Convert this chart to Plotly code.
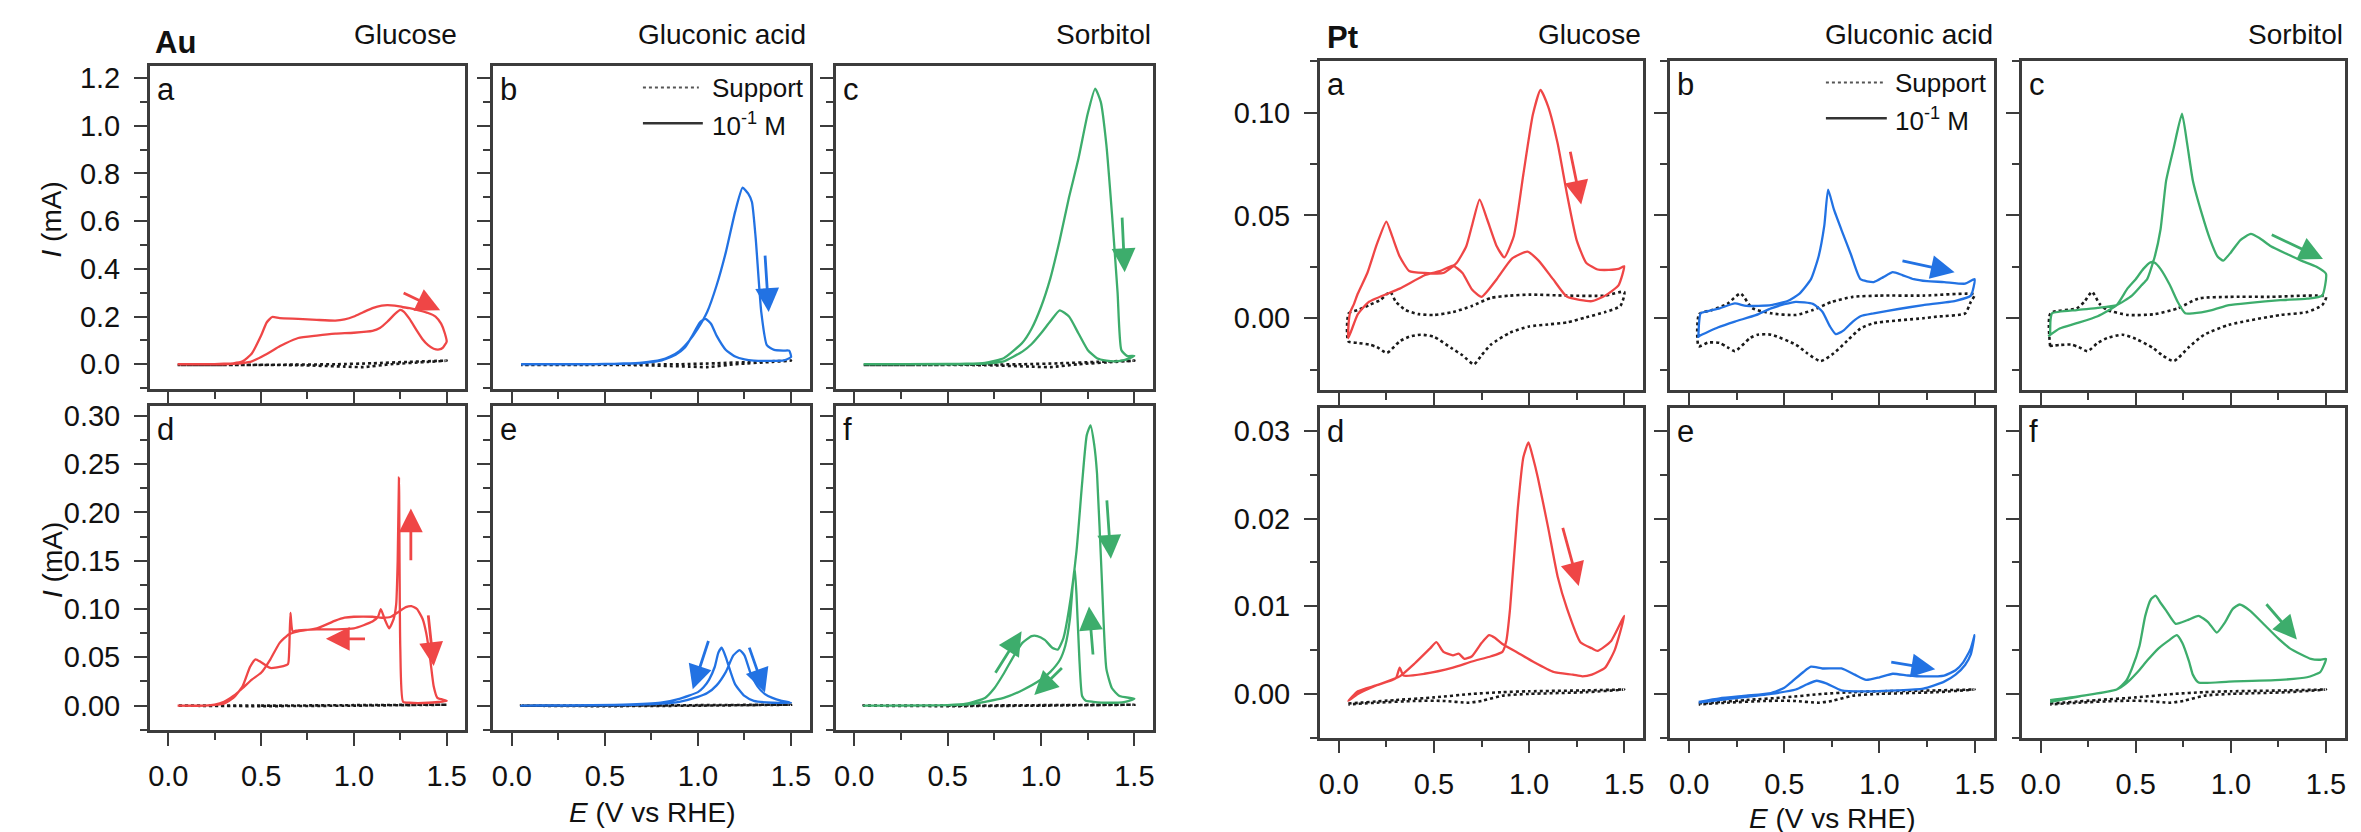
import plotly.graph_objects as go

W, H = 2361, 832
RED, BLUE, GREEN = "#EF4646", "#2272E3", "#3DAD6C"
FONT = "Liberation Sans, Arial, Helvetica, sans-serif"

# ---------------- Au : top row (10^-1 M) ----------------
au_glc_E = [0.05, 0.2, 0.3, 0.35, 0.4, 0.45, 0.5, 0.53, 0.56, 0.6, 0.7, 0.8, 0.9, 0.95, 1.0, 1.05, 1.1, 1.15, 1.18, 1.22,
            1.26, 1.3, 1.35, 1.4, 1.44, 1.47, 1.49, 1.5,
            1.48, 1.46, 1.43, 1.4, 1.37, 1.34, 1.3, 1.27, 1.25, 1.22, 1.18, 1.14, 1.1, 1.0, 0.9, 0.8, 0.7, 0.63, 0.6,
            0.52, 0.45, 0.4, 0.35, 0.3, 0.2, 0.05]
au_glc_I = [0.0, 0.0, 0.002, 0.004, 0.012, 0.045, 0.12, 0.175, 0.198, 0.193, 0.19, 0.186, 0.183, 0.188, 0.2, 0.218, 0.235,
            0.246, 0.248, 0.246, 0.24, 0.235, 0.226, 0.215, 0.2, 0.17, 0.13, 0.095,
            0.07, 0.062, 0.065, 0.08, 0.105, 0.14, 0.19, 0.22, 0.228, 0.21, 0.178, 0.152, 0.14, 0.132, 0.128, 0.12,
            0.11, 0.087, 0.075, 0.039, 0.012, 0.005, 0.002, 0.0, 0.0, 0.0]
au_gla_E = [0.05, 0.4, 0.5, 0.6, 0.7, 0.8, 0.85, 0.9, 0.95, 1.0, 1.05, 1.1, 1.15, 1.2, 1.24, 1.27, 1.29, 1.31, 1.34, 1.37,
            1.41, 1.46, 1.49, 1.5,
            1.46, 1.4, 1.3, 1.25, 1.2, 1.15, 1.1, 1.07, 1.04, 1.01, 0.97, 0.93, 0.88, 0.8, 0.7, 0.6, 0.4, 0.05]
au_gla_I = [0.0, 0.0, 0.001, 0.003, 0.007, 0.018, 0.032, 0.055, 0.095, 0.15, 0.22, 0.33, 0.47, 0.64, 0.74, 0.715, 0.68,
            0.53, 0.22, 0.08, 0.06, 0.057, 0.057, 0.03,
            0.016, 0.014, 0.015, 0.02, 0.032, 0.06, 0.12, 0.17, 0.19, 0.175, 0.12, 0.07, 0.04, 0.015, 0.005, 0.002,
            0.0, 0.0]
au_sor_E = [0.05, 0.5, 0.6, 0.7, 0.8, 0.9, 0.95, 1.0, 1.05, 1.1, 1.15, 1.2, 1.25, 1.29, 1.32, 1.35, 1.38, 1.41, 1.43,
            1.46, 1.5,
            1.45, 1.4, 1.35, 1.3, 1.25, 1.2, 1.15, 1.1, 1.05, 1.0, 0.95, 0.9, 0.8, 0.7, 0.5, 0.05]
au_sor_I = [0.0, 0.001, 0.002, 0.006, 0.025, 0.09, 0.15, 0.24, 0.36, 0.52, 0.7, 0.86, 1.05, 1.156, 1.1, 0.92, 0.63, 0.3,
            0.06, 0.035, 0.035,
            0.018, 0.012, 0.015, 0.025, 0.06, 0.13, 0.2, 0.226, 0.18, 0.13, 0.085, 0.053, 0.012, 0.003, 0.0, 0.0]
au_top_sup_E = [0.05, 0.3, 0.6, 0.9, 1.1, 1.3, 1.5, 1.4, 1.2, 1.05, 0.95, 0.7, 0.4, 0.05]
au_top_sup_I = [-0.003, -0.003, -0.002, 0.0, 0.004, 0.01, 0.015, 0.01, 0.0, -0.012, -0.01, -0.004, -0.003, -0.003]

# ---------------- Au : bottom row (10^-3 M) ----------------
au_glc2_E = [0.05, 0.2, 0.25, 0.3, 0.35, 0.4, 0.45, 0.5, 0.55, 0.6, 0.65, 0.7, 0.8, 0.9, 0.95, 1.0, 1.1, 1.15, 1.2, 1.24,
             1.28, 1.31, 1.34, 1.37, 1.39, 1.41, 1.43, 1.45, 1.5,
             1.4, 1.3, 1.265, 1.25, 1.243, 1.236, 1.228, 1.215, 1.19, 1.165, 1.145, 1.13, 1.1, 1.0, 0.9, 0.8, 0.7,
             0.67, 0.658, 0.652, 0.645, 0.62, 0.55, 0.5, 0.47, 0.44, 0.4, 0.35, 0.3, 0.2, 0.05]
au_glc2_I = [0.0, 0.0, 0.001, 0.004, 0.01, 0.018, 0.027, 0.034, 0.048, 0.065, 0.074, 0.077, 0.08, 0.088, 0.091, 0.092,
             0.092, 0.091, 0.092, 0.097, 0.102, 0.103, 0.1, 0.09, 0.075, 0.05, 0.02, 0.008, 0.005,
             0.003, 0.003, 0.004, 0.06, 0.236, 0.15, 0.105, 0.09, 0.08, 0.09, 0.1, 0.092, 0.087, 0.08, 0.079, 0.079,
             0.078, 0.077, 0.096, 0.06, 0.043, 0.041, 0.039, 0.045, 0.048, 0.04, 0.02, 0.008, 0.002, 0.0, 0.0]
au_gla2_E = [0.05, 0.6, 0.8, 0.9, 1.0, 1.05, 1.1, 1.15, 1.19, 1.224, 1.25, 1.28, 1.32, 1.36, 1.4, 1.45, 1.5,
             1.4, 1.3, 1.25, 1.2, 1.17, 1.15, 1.128, 1.11, 1.09, 1.06, 1.03, 1.0, 0.9, 0.8, 0.6, 0.05]
au_gla2_I = [0.0, 0.0005, 0.002, 0.004, 0.009, 0.013, 0.021, 0.035, 0.052, 0.0575, 0.052, 0.035, 0.02, 0.012, 0.008,
             0.005, 0.003,
             0.003, 0.005, 0.01, 0.022, 0.038, 0.05, 0.06, 0.055, 0.04, 0.027, 0.019, 0.014, 0.007, 0.003, 0.001, 0.0]
au_sor2_E = [0.05, 0.5, 0.6, 0.7, 0.75, 0.8, 0.85, 0.9, 0.95, 0.98, 1.02, 1.06, 1.09, 1.12, 1.15, 1.19, 1.22, 1.245,
             1.265, 1.285, 1.3, 1.325, 1.35, 1.38, 1.42, 1.5,
             1.45, 1.35, 1.28, 1.24, 1.22, 1.205, 1.19, 1.18, 1.17, 1.155, 1.13, 1.1, 1.05, 1.0, 0.9, 0.8, 0.7, 0.6,
             0.05]
au_sor2_I = [0.0, 0.0005, 0.002, 0.008, 0.018, 0.033, 0.05, 0.065, 0.072, 0.072, 0.068, 0.06, 0.058, 0.07, 0.1, 0.16,
             0.23, 0.28, 0.29, 0.27, 0.24, 0.134, 0.038, 0.018, 0.01, 0.007,
             0.004, 0.003, 0.004, 0.005, 0.01, 0.05, 0.115, 0.144, 0.125, 0.09, 0.062, 0.047, 0.035, 0.027, 0.016,
             0.008, 0.004, 0.001, 0.0]
au_bot_sup_E = [0.05, 0.5, 1.0, 1.5, 1.0, 0.5, 0.05]
au_bot_sup_I = [0.0, 0.0, 0.0005, 0.001, 0.0, -0.0005, 0.0]

# ---------------- Pt : top row (10^-1 M) ----------------
pt_glc_E = [0.05, 0.052, 0.06, 0.08, 0.1, 0.15, 0.2, 0.25, 0.28, 0.32, 0.37, 0.45, 0.55, 0.62, 0.67, 0.7, 0.74, 0.78,
            0.83, 0.87, 0.92, 0.97, 1.02, 1.06, 1.1, 1.15, 1.2, 1.25, 1.3, 1.36, 1.42, 1.47, 1.5,
            1.47, 1.4, 1.33, 1.2, 1.126, 1.05, 0.992, 0.91, 0.83, 0.75, 0.7, 0.65, 0.6, 0.535, 0.454, 0.32, 0.159,
            0.1, 0.05]
pt_glc_I = [-0.0096, -0.002, 0.003, 0.007, 0.012, 0.022, 0.036, 0.047, 0.04, 0.03, 0.023, 0.022, 0.022, 0.027, 0.035,
            0.045, 0.0577, 0.048, 0.035, 0.0296, 0.04, 0.07, 0.099, 0.111, 0.103, 0.085, 0.06, 0.038, 0.027, 0.0237,
            0.0235, 0.024, 0.0253,
            0.016, 0.011, 0.0083, 0.0104, 0.019, 0.028, 0.0324, 0.029, 0.019, 0.0104, 0.014, 0.022, 0.0256, 0.023,
            0.021, 0.0144, 0.008, 0.002, -0.0096]
pt_glc_sup_E = [0.05, 0.052, 0.1, 0.16, 0.22, 0.27, 0.3, 0.35, 0.42, 0.5, 0.6, 0.7, 0.8, 0.9, 1.0, 1.2, 1.4, 1.5,
                1.48, 1.4, 1.3, 1.2, 1.1, 1.0, 0.9, 0.8, 0.75, 0.71, 0.65, 0.59, 0.5, 0.43, 0.37, 0.32, 0.253, 0.2,
                0.16, 0.1, 0.05]
pt_glc_sup_I = [-0.0112, 0.0024, 0.004, 0.0064, 0.009, 0.0128, 0.008, 0.004, 0.002, 0.0016, 0.003, 0.006, 0.0099,
                0.011, 0.0115, 0.011, 0.011, 0.0128,
                0.006, 0.003, 0.0005, -0.002, -0.003, -0.004, -0.007, -0.0128, -0.018, -0.0224, -0.018, -0.0144,
                -0.009, -0.008, -0.009, -0.0112, -0.0168, -0.014, -0.0128, -0.012, -0.0112]
pt_gla_E = [0.048, 0.052, 0.06, 0.1, 0.16, 0.24, 0.3, 0.43, 0.52, 0.58, 0.64, 0.68, 0.71, 0.73, 0.76, 0.8, 0.85, 0.9,
            0.97, 1.02, 1.07, 1.12, 1.18, 1.25, 1.34, 1.45, 1.5,
            1.48, 1.4, 1.23, 1.1, 0.97, 0.9, 0.86, 0.81, 0.77, 0.74, 0.7, 0.65, 0.56, 0.5, 0.43, 0.35, 0.24, 0.15,
            0.048]
pt_gla_I = [-0.0096, -0.002, 0.0024, 0.0035, 0.0048, 0.0072, 0.006, 0.0064, 0.0085, 0.012, 0.019, 0.03, 0.045, 0.0625,
            0.053, 0.043, 0.031, 0.019, 0.0176, 0.02, 0.0224, 0.021, 0.019, 0.018, 0.0176, 0.0168, 0.019,
            0.011, 0.0085, 0.0064, 0.0045, 0.0024, 0.001, -0.0016, -0.006, -0.0077, -0.004, 0.0032, 0.007, 0.008,
            0.0068, 0.0048, 0.0015, -0.0016, -0.0045, -0.0088]
pt_gla_sup_E = [0.05, 0.052, 0.12, 0.2, 0.27, 0.33, 0.43, 0.56, 0.65, 0.75, 0.86, 1.0, 1.23, 1.5,
                1.48, 1.45, 1.3, 1.23, 0.97, 0.9, 0.83, 0.76, 0.69, 0.62, 0.56, 0.43, 0.36, 0.32, 0.24, 0.2, 0.16,
                0.1, 0.05]
pt_gla_sup_I = [-0.0136, 0.002, 0.004, 0.007, 0.012, 0.005, 0.0024, 0.0016, 0.004, 0.008, 0.0104, 0.011, 0.011,
                0.0115,
                0.008, 0.0024, 0.0008, 0.0, -0.0024, -0.005, -0.011, -0.017, -0.0208, -0.017, -0.0128, -0.008,
                -0.008, -0.0096, -0.016, -0.014, -0.012, -0.0118, -0.0136]
pt_sor_E = [0.05, 0.052, 0.06, 0.19, 0.3, 0.4, 0.48, 0.53, 0.56, 0.6, 0.63, 0.66, 0.7, 0.743, 0.77, 0.8, 0.85, 0.89,
            0.93, 0.96, 1.0, 1.05, 1.105, 1.15, 1.21, 1.3, 1.37, 1.45, 1.5,
            1.48, 1.4, 1.26, 1.1, 0.99, 0.9, 0.8, 0.76, 0.72, 0.68, 0.63, 0.6, 0.577, 0.54, 0.5, 0.456, 0.4, 0.3,
            0.19, 0.1, 0.04]
pt_sor_I = [-0.008, -0.001, 0.0024, 0.004, 0.005, 0.0064, 0.011, 0.016, 0.019, 0.03, 0.043, 0.067, 0.083, 0.0994,
            0.085, 0.067, 0.05, 0.0385, 0.03, 0.028, 0.032, 0.038, 0.041, 0.039, 0.035, 0.031, 0.028, 0.025, 0.0216,
            0.011, 0.0095, 0.0088, 0.0075, 0.0064, 0.004, 0.0024, 0.0024, 0.008, 0.016, 0.024, 0.027, 0.0272,
            0.024, 0.019, 0.0144, 0.0064, 0.001, -0.0024, -0.005, -0.0088]
pt_sor_sup_E = [0.05, 0.052, 0.19, 0.23, 0.27, 0.31, 0.35, 0.46, 0.6, 0.72, 0.83, 0.99, 1.2, 1.5,
                1.48, 1.4, 1.26, 0.99, 0.86, 0.78, 0.7, 0.64, 0.59, 0.5, 0.43, 0.35, 0.3, 0.247, 0.2, 0.16, 0.1,
                0.04]
pt_sor_sup_I = [-0.0136, 0.0024, 0.0048, 0.008, 0.0128, 0.007, 0.004, 0.0016, 0.002, 0.0048, 0.0096, 0.0104, 0.0104,
                0.0104,
                0.0064, 0.003, 0.0016, -0.0032, -0.008, -0.014, -0.0208, -0.018, -0.0144, -0.01, -0.008, -0.0096,
                -0.012, -0.016, -0.014, -0.0128, -0.013, -0.0136]

# ---------------- Pt : bottom row (10^-3 M) ----------------
pt_glc2_E = [0.05, 0.1, 0.2, 0.3, 0.32, 0.34, 0.45, 0.6, 0.7, 0.8, 0.86, 0.88, 0.9, 0.94, 0.97, 0.997, 1.02, 1.046,
             1.1, 1.15, 1.2, 1.27, 1.33, 1.36, 1.43, 1.5,
             1.45, 1.4, 1.33, 1.28, 1.23, 1.13, 1.02, 0.94, 0.86, 0.82, 0.79, 0.75, 0.7, 0.66, 0.63, 0.6, 0.55, 0.513,
             0.48, 0.4, 0.32, 0.2, 0.1, 0.05]
pt_glc2_I = [-0.0008, 0.0003, 0.001, 0.0018, 0.003, 0.0021, 0.0023, 0.003, 0.0037, 0.0043, 0.0048, 0.006, 0.0097,
             0.021, 0.027, 0.0287, 0.027, 0.0247, 0.019, 0.0134, 0.0097, 0.0059, 0.0052, 0.0049, 0.006, 0.0089,
             0.005, 0.003, 0.0022, 0.002, 0.0022, 0.0025, 0.0037, 0.0047, 0.0057, 0.0064, 0.0067, 0.0058, 0.0043,
             0.004, 0.0046, 0.0044, 0.0048, 0.0059, 0.0052, 0.0035, 0.002, 0.001, 0.0, -0.0008]
pt_gla2_E = [0.05, 0.16, 0.3, 0.43, 0.5, 0.54, 0.6, 0.64, 0.7, 0.8, 0.87, 0.93, 1.0, 1.07, 1.15, 1.23, 1.34, 1.4, 1.44,
             1.48, 1.5,
             1.48, 1.45, 1.4, 1.34, 1.23, 0.97, 0.8, 0.72, 0.67, 0.62, 0.56, 0.43, 0.2, 0.05]
pt_gla2_I = [-0.0009, -0.0005, -0.0002, 0.0001, 0.0007, 0.0014, 0.0025, 0.0031, 0.0029, 0.0029, 0.0022, 0.0016,
             0.0019, 0.0023, 0.0021, 0.002, 0.0021, 0.0027, 0.0036, 0.0052, 0.0067,
             0.0045, 0.0033, 0.0022, 0.0014, 0.0006, 0.0003, 0.0004, 0.0012, 0.0015, 0.0011, 0.0005, 0.0, -0.0006,
             -0.001]
pt_sor2_E = [0.05, 0.19, 0.4, 0.45, 0.48, 0.52, 0.55, 0.58, 0.604, 0.63, 0.66, 0.71, 0.77, 0.83, 0.88, 0.926, 0.97,
             1.01, 1.046, 1.1, 1.18, 1.25, 1.31, 1.37, 1.42, 1.47, 1.5,
             1.47, 1.4, 1.26, 0.99, 0.83, 0.8, 0.78, 0.745, 0.716, 0.68, 0.62, 0.56, 0.51, 0.45, 0.4, 0.2, 0.05]
pt_sor2_I = [-0.0007, -0.0003, 0.0005, 0.0015, 0.0029, 0.0055, 0.0089, 0.0108, 0.0112, 0.0104, 0.0095, 0.008, 0.0084,
             0.0089, 0.0082, 0.007, 0.0082, 0.0097, 0.0102, 0.0095, 0.0078, 0.0063, 0.0052, 0.0045, 0.004, 0.0039,
             0.004,
             0.0025, 0.0019, 0.0016, 0.0014, 0.0013, 0.0022, 0.0037, 0.0058, 0.0067, 0.0062, 0.0052, 0.0038, 0.0025,
             0.0012, 0.0005, -0.0003, -0.0009]
pt_bot_sup_E = [0.05, 0.3, 0.5, 0.7, 0.86, 1.0, 1.3, 1.5, 1.3, 1.0, 0.86, 0.75, 0.68, 0.55, 0.4, 0.2, 0.05]
pt_bot_sup_I = [-0.0011, -0.0007, -0.0004, 0.0, 0.0002, 0.0003, 0.0004, 0.0005, 0.0002, 0.0, -0.0002, -0.0008,
                -0.001, -0.0008, -0.0008, -0.001, -0.0012]

# ---------------- arrows (tail E, tail I, head E, head I) ----------------
arrows = {
    1: [(1.26, 0.302, 1.465, 0.226)],
    2: [(1.36, 0.462, 1.38, 0.219)],
    3: [(1.434, 0.621, 1.448, 0.386)],
    4: [(1.307, 0.149, 1.307, 0.204), (1.40, 0.095, 1.43, 0.041), (1.068, 0.0692, 0.849, 0.0692)],
    5: [(1.059, 0.0685, 0.972, 0.0171), (1.273, 0.0616, 1.36, 0.0137)],
    6: [(0.751, 0.0325, 0.896, 0.077), (1.12, 0.0404, 0.964, 0.011), (1.279, 0.0514, 1.257, 0.1027),
        (1.352, 0.214, 1.374, 0.152)],
    7: [(1.215, 0.0817, 1.274, 0.0553)],
    8: [(1.113, 0.028, 1.395, 0.0224)],
    9: [(1.207, 0.0409, 1.484, 0.0288)],
    10: [(1.175, 0.0191, 1.261, 0.0123)],
    11: [(1.054, 0.00365, 1.293, 0.0028)],
    12: [(1.18, 0.0104, 1.347, 0.0062)],
}

# panel geometry in pixels: (left, right, top, bottom)
geom = {
    1: (140, 456, 52, 378), 2: (484, 801, 52, 378), 3: (827, 1145, 52, 378),
    4: (140, 456, 395, 721), 5: (484, 801, 395, 721), 6: (827, 1145, 395, 721),
    7: (1312, 1636, 47, 379), 8: (1663, 1987, 47, 379), 9: (2015, 2339, 47, 379),
    10: (1312, 1636, 397, 729), 11: (1663, 1987, 397, 729), 12: (2015, 2339, 397, 729),
}
yspec = {  # range, major ticks, minor step, format
    "au_top": ([-0.105, 1.252], [0.0, 0.2, 0.4, 0.6, 0.8, 1.0, 1.2], 0.1, ".1f"),
    "au_bot": ([-0.025, 0.31], [0.0, 0.05, 0.10, 0.15, 0.20, 0.25, 0.30], 0.025, ".2f"),
    "pt_top": ([-0.035, 0.1252], [0.0, 0.05, 0.10], 0.025, ".2f"),
    "pt_bot": ([-0.005, 0.0326], [0.0, 0.01, 0.02, 0.03], 0.005, ".2f"),
}
panels = [
    (1, au_glc_E, au_glc_I, au_top_sup_E, au_top_sup_I, RED, "au_top", "a"),
    (2, au_gla_E, au_gla_I, au_top_sup_E, au_top_sup_I, BLUE, "au_top", "b"),
    (3, au_sor_E, au_sor_I, au_top_sup_E, au_top_sup_I, GREEN, "au_top", "c"),
    (4, au_glc2_E, au_glc2_I, au_bot_sup_E, au_bot_sup_I, RED, "au_bot", "d"),
    (5, au_gla2_E, au_gla2_I, au_bot_sup_E, au_bot_sup_I, BLUE, "au_bot", "e"),
    (6, au_sor2_E, au_sor2_I, au_bot_sup_E, au_bot_sup_I, GREEN, "au_bot", "f"),
    (7, pt_glc_E, pt_glc_I, pt_glc_sup_E, pt_glc_sup_I, RED, "pt_top", "a"),
    (8, pt_gla_E, pt_gla_I, pt_gla_sup_E, pt_gla_sup_I, BLUE, "pt_top", "b"),
    (9, pt_sor_E, pt_sor_I, pt_sor_sup_E, pt_sor_sup_I, GREEN, "pt_top", "c"),
    (10, pt_glc2_E, pt_glc2_I, pt_bot_sup_E, pt_bot_sup_I, RED, "pt_bot", "d"),
    (11, pt_gla2_E, pt_gla2_I, pt_bot_sup_E, pt_bot_sup_I, BLUE, "pt_bot", "e"),
    (12, pt_sor2_E, pt_sor2_I, pt_bot_sup_E, pt_bot_sup_I, GREEN, "pt_bot", "f"),
]

def px(x):
    return x / W

def py(y):
    return 1 - y / H

AX = "#3c3c3c"
TF = 29
fig = go.Figure()
layout = dict(width=W, height=H, margin=dict(l=0, r=0, t=0, b=0), paper_bgcolor="white",
              plot_bgcolor="white", showlegend=False, font=dict(family=FONT, color="#111"))
annotations = []
shapes = []

for n, E, I, sE, sI, col, ys, letter in panels:
    xa = "x" if n == 1 else f"x{n}"
    ya = "y" if n == 1 else f"y{n}"
    fig.add_trace(go.Scatter(x=sE, y=sI, mode="lines", xaxis=xa, yaxis=ya,
                             line=dict(color="#1a1a1a", width=2.6, dash="dot", shape="spline", smoothing=0.6)))
    fig.add_trace(go.Scatter(x=E, y=I, mode="lines", xaxis=xa, yaxis=ya,
                             line=dict(color=col, width=2.3, shape="spline", smoothing=0.5)))
    l, r, t, b = geom[n]
    rng, yt, ymin, fmt = yspec[ys]
    show_y = n in (1, 4, 7, 10)
    show_x = n in (4, 5, 6, 10, 11, 12)
    key = "" if n == 1 else str(n)
    layout["xaxis" + key] = dict(
        domain=[px(l), px(r)], anchor=ya, range=[-0.1, 1.6], showline=True, mirror=True,
        linecolor=AX, linewidth=2.5, ticks="outside", ticklen=13, tickwidth=2.2, tickcolor=AX,
        tickvals=[0.0, 0.5, 1.0, 1.5], ticktext=["0.0", "0.5", "1.0", "1.5"], showticklabels=show_x,
        tickfont=dict(size=TF, family=FONT, color="#111"), ticklabelstandoff=6,
        minor=dict(ticks="outside", ticklen=7, tickwidth=2.2, tickcolor=AX, tickvals=[0.25, 0.75, 1.25]),
        showgrid=False, zeroline=False, fixedrange=True)
    mt = []
    k = int(round(rng[0] / ymin)) - 1
    while True:
        val = k * ymin
        if val > rng[1]:
            break
        if val >= rng[0] - 1e-9 and all(abs(val - q) > 1e-9 for q in yt):
            mt.append(round(val, 6))
        k += 1
    layout["yaxis" + key] = dict(
        domain=[py(b), py(t)], anchor=xa, range=rng, showline=True, mirror=True,
        linecolor=AX, linewidth=2.5, ticks="outside", ticklen=13, tickwidth=2.2, tickcolor=AX,
        tickvals=yt, ticktext=[format(q, fmt) for q in yt], showticklabels=show_y,
        tickfont=dict(size=TF, family=FONT, color="#111"), ticklabelstandoff=8,
        minor=dict(ticks="outside", ticklen=7, tickwidth=2.2, tickcolor=AX, tickvals=mt),
        showgrid=False, zeroline=False, fixedrange=True)
    # panel letter
    annotations.append(dict(text=letter, x=px(l + 5), y=py(t + 24), xref="paper", yref="paper",
                            xanchor="left", yanchor="middle", showarrow=False,
                            font=dict(size=31, family=FONT, color="#111")))
    for (tx, ty, hx, hy) in arrows[n]:
        annotations.append(dict(x=hx, y=hy, ax=tx, ay=ty, xref=xa, yref=ya, axref=xa, ayref=ya,
                                text="", showarrow=True, arrowhead=2, arrowsize=1.7, arrowwidth=2.8,
                                arrowcolor=col, standoff=0, startstandoff=0))

# column titles
titles = [("Glucose", 450, 21), ("Gluconic acid", 799, 21), ("Sorbitol", 1145, 21),
          ("Glucose", 1636, 21), ("Gluconic acid", 1988, 21), ("Sorbitol", 2339, 21)]
for txt, x, y in titles:
    annotations.append(dict(text=txt, x=px(x), y=py(y), xref="paper", yref="paper", xanchor="right",
                            yanchor="middle", showarrow=False, font=dict(size=28, family=FONT, color="#111")))
for txt, x, y in [("Au", 143, 29), ("Pt", 1317, 24)]:
    annotations.append(dict(text=f"<b>{txt}</b>", x=px(x), y=py(y), xref="paper", yref="paper",
                            xanchor="left", yanchor="middle", showarrow=False,
                            font=dict(size=31, family=FONT, color="#111")))
# axis titles
for x, y in [(643, 804), (1825, 810)]:
    annotations.append(dict(text="<i>E</i> (V vs RHE)", x=px(x), y=py(y), xref="paper", yref="paper",
                            xanchor="center", yanchor="middle", showarrow=False,
                            font=dict(size=28, family=FONT, color="#111")))
for y in [207, 550]:
    annotations.append(dict(text="<i>I</i> (mA)", x=px(42), y=py(y), xref="paper", yref="paper",
                            xanchor="center", yanchor="middle", textangle=-90, showarrow=False,
                            font=dict(size=28, family=FONT, color="#111")))
# legends in panels b
for (x0, x1, xt, y1, y2) in [(634, 690, 701, 74, 110), (1819, 1876, 1886, 69, 105)]:
    shapes.append(dict(type="line", xref="paper", yref="paper", x0=px(x0), x1=px(x1), y0=py(y1), y1=py(y1),
                       line=dict(color="#555", width=2, dash="dot")))
    shapes.append(dict(type="line", xref="paper", yref="paper", x0=px(x0), x1=px(x1 + 4), y0=py(y2), y1=py(y2),
                       line=dict(color="#333", width=2.5)))
    annotations.append(dict(text="Support", x=px(xt), y=py(y1 + 1), xref="paper", yref="paper",
                            xanchor="left", yanchor="middle", showarrow=False,
                            font=dict(size=26, family=FONT, color="#111")))
    annotations.append(dict(text="10<sup>-1</sup> M", x=px(xt), y=py(y2 + 1), xref="paper", yref="paper",
                            xanchor="left", yanchor="middle", showarrow=False,
                            font=dict(size=26, family=FONT, color="#111")))

layout["annotations"] = annotations
layout["shapes"] = shapes
fig.update_layout(**layout)
fig.write_html("out.html")
